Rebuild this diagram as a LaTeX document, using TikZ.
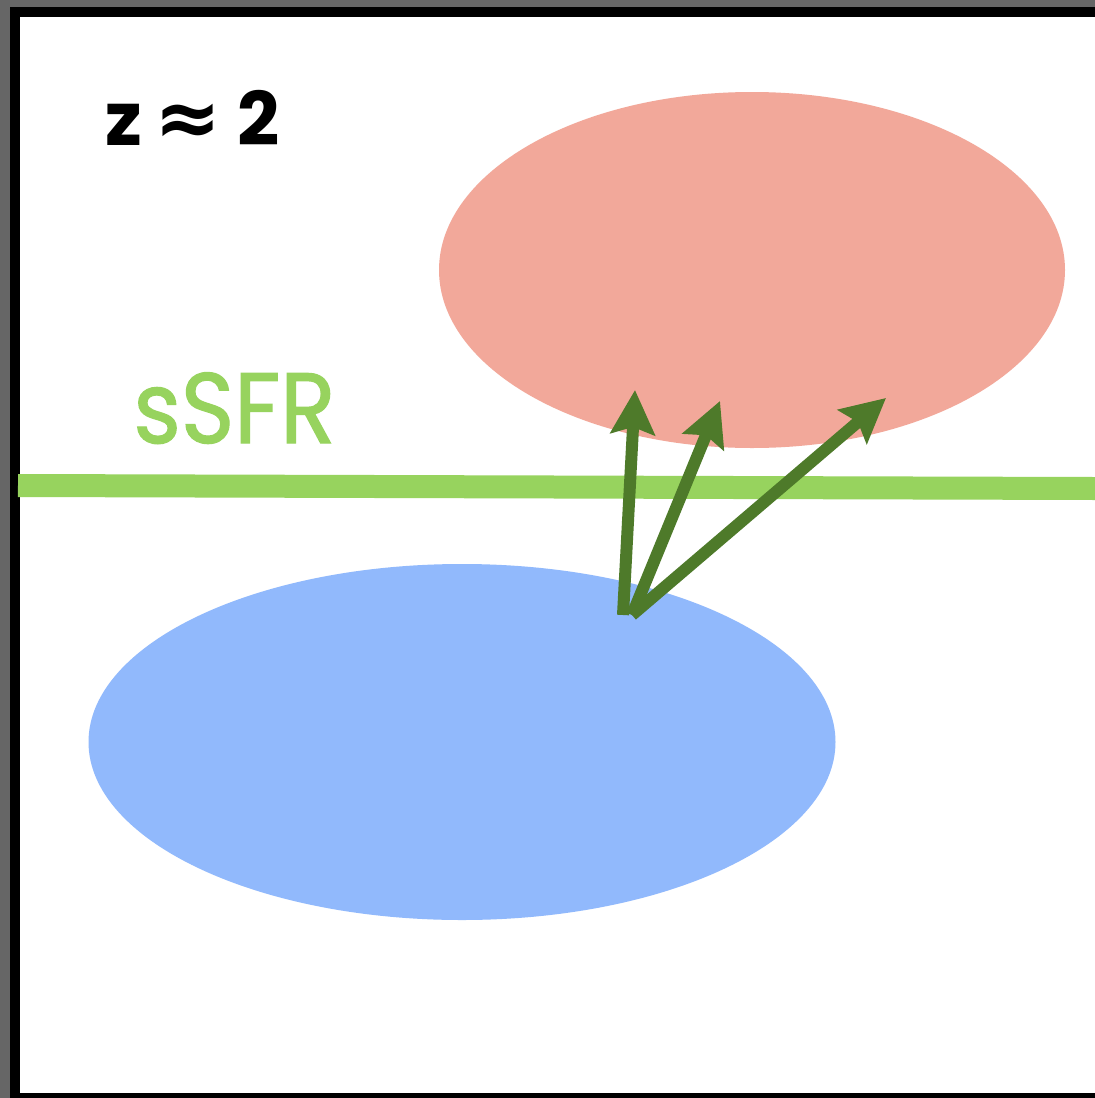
\documentclass[tikz,border=0pt]{standalone}
\usepackage{fontspec}
\setmainfont{Poppins}
\newfontfamily\symfont{DejaVu Sans}
\newfontfamily\ssfrfont[FakeStretch=0.91, FakeBold=1.2]{Poppins}
\usetikzlibrary{arrows.meta}
\definecolor{backgrey}{HTML}{666666}
\definecolor{redpop}{HTML}{F2A89A}
\definecolor{bluepop}{HTML}{91B9FC}
\definecolor{ssfrgreen}{HTML}{97D35E}
\definecolor{movegreen}{HTML}{4E7A2A}
\tikzset{
  evolve/.style={draw=movegreen, line width=6pt,
    -{Stealth[length=22pt, width=22pt, inset=3.5pt]}},
}
\begin{document}
\begin{tikzpicture}[x=0.5pt, y=-0.5pt]
  \useasboundingbox (0,0) rectangle (1095,1098);
  % outer background and frame
  \fill[backgrey] (0,0) rectangle (1095,1098);
  \fill[black] (10,7) rectangle (1095,1098);
  \fill[white] (20,17) rectangle (1095,1093);
  % galaxy populations
  \fill[redpop] (752,270) ellipse [x radius=313, y radius=178];
  \fill[bluepop] (462,742) ellipse [x radius=373.5, y radius=178];
  % sSFR threshold
  \coordinate (lineL) at (18,485.5);
  \coordinate (lineR) at (1095,488.5);
  \draw[ssfrgreen, line width=11.5pt] (lineL) -- (lineR);
  \node[anchor=base west, inner sep=0pt, text=ssfrgreen,
        font=\ssfrfont\fontsize{50}{50}\selectfont] (ssfr) at (133,443) {sSFR};
  % redshift label
  \node[anchor=base west, inner sep=0pt,
        font=\fontsize{37}{37}\selectfont\bfseries] (zlabel) at (105,145)
        {z\hspace{6pt}{\symfont\bfseries\fontsize{40}{40}\selectfont ≈}\hspace{8pt}2};
  % evolutionary tracks
  \coordinate (startA) at (623,615);
  \coordinate (startB) at (632,615);
  \coordinate (tipA) at (635,390);
  \coordinate (tipB) at (720,401);
  \coordinate (tipC) at (886,398);
  \draw[evolve] (startA) -- (tipA);
  \draw[evolve] (startB) -- (tipB);
  \draw[evolve] (startB) -- (tipC);
\end{tikzpicture}
\end{document}
